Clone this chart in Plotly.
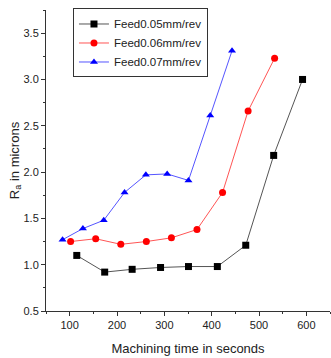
import plotly.graph_objects as go

x_005 = [115, 174, 232, 292, 351, 412, 472, 531, 592]
y_005 = [1.10, 0.92, 0.95, 0.97, 0.98, 0.98, 1.21, 2.18, 3.00]
x_006 = [102, 155, 208, 262, 315, 369, 423, 477, 533]
y_006 = [1.25, 1.28, 1.22, 1.25, 1.29, 1.38, 1.78, 2.66, 3.23]
x_007 = [85, 128, 172, 216, 261, 306, 351, 397, 443]
y_007 = [1.27, 1.39, 1.48, 1.78, 1.97, 1.98, 1.91, 2.61, 3.31]
names = ["Feed0.05mm/rev", "Feed0.06mm/rev", "Feed0.07mm/rev"]
x_ticks = [100, 200, 300, 400, 500, 600]
y_ticks = [0.5, 1.0, 1.5, 2.0, 2.5, 3.0, 3.5]

FONT = "Liberation Sans, Arial, sans-serif"

fig = go.Figure()
series = [
    (x_005, y_005, names[0], "black", "#555555", "square"),
    (x_006, y_006, names[1], "red", "#ff5555", "circle"),
    (x_007, y_007, names[2], "blue", "#5555ff", "triangle-up"),
]
for xs, ys, nm, mc, lc, sym in series:
    fig.add_trace(go.Scatter(
        x=xs, y=ys, name=nm, mode="lines+markers",
        line=dict(color=lc, width=1),
        marker=dict(color=mc, symbol=sym, size=7),
    ))

fig.update_layout(
    width=331, height=358,
    margin=dict(l=46, r=1, t=10, b=47, autoexpand=False),
    paper_bgcolor="white", plot_bgcolor="white",
    font=dict(family=FONT, size=11, color="#222222"),
    showlegend=True,
    legend=dict(
        x=0.095, y=1.005, xanchor="left", yanchor="top",
        bordercolor="#333333", borderwidth=1,
        font=dict(family=FONT, size=11.5, color="#222222"),
        tracegroupgap=0, itemwidth=30,
        bgcolor="rgba(255,255,255,0)",
    ),
    xaxis=dict(
        range=[50, 650], tickvals=x_ticks, ticks="outside", ticklen=4,
        tickcolor="#333333", showline=True, linecolor="#333333", linewidth=1,
        showgrid=False, zeroline=False, automargin=False,
        minor=dict(ticks="outside", ticklen=2, dtick=50, tick0=50, tickcolor="#333333"),
        title=dict(text="Machining time in seconds", font=dict(family=FONT, size=13), standoff=13),
    ),
    yaxis=dict(
        range=[0.5, 3.75], tickvals=y_ticks, tickformat=".1f", ticks="outside", ticklen=4,
        tickcolor="#333333", showline=True, linecolor="#333333", linewidth=1,
        showgrid=False, zeroline=False, automargin=False,
        minor=dict(ticks="outside", ticklen=2, dtick=0.25, tick0=0.5, tickcolor="#333333"),
        title=dict(text="R<sub>a</sub> in microns", font=dict(family=FONT, size=13), standoff=0),
    ),
)

fig.write_html(
    "out.html",
    config={"displayModeBar": False},
    post_script="document.body.style.margin='0';document.body.style.overflow='hidden';",
)
